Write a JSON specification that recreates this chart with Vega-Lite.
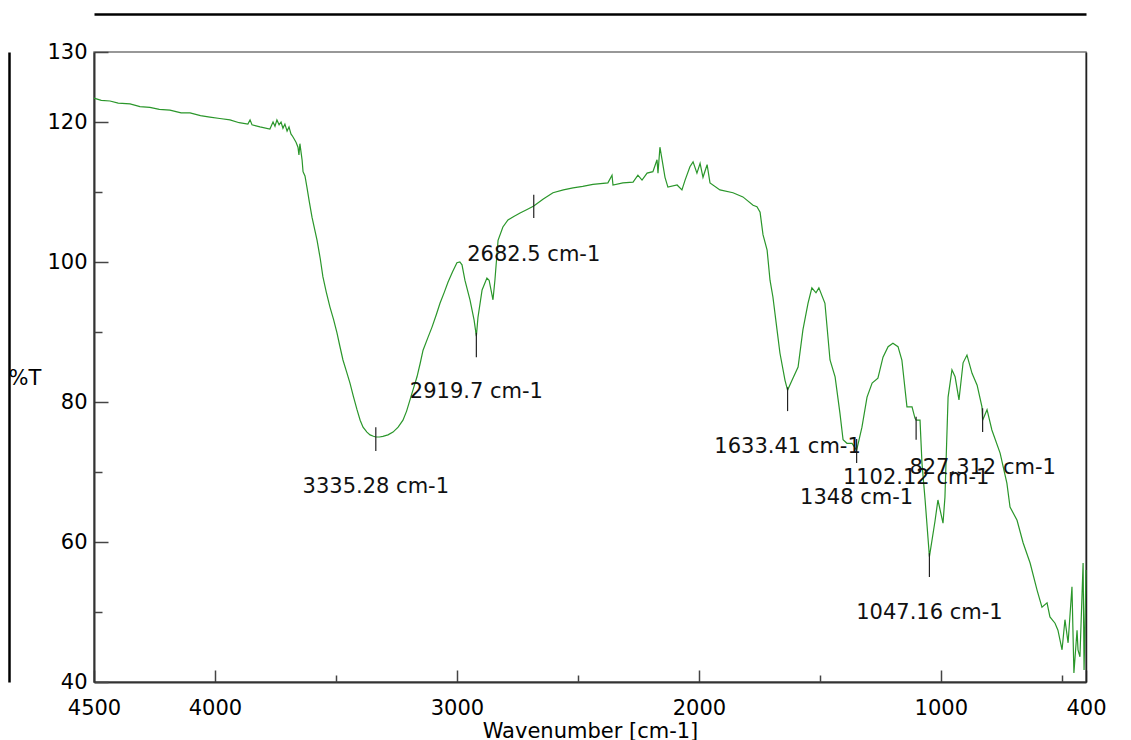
{
  "$schema": "https://vega.github.io/schema/vega-lite/v6.json",
  "width": 992,
  "height": 630,
  "autosize": {"type": "none"},
  "padding": {"left": 94, "top": 52, "right": 45, "bottom": 58},
  "background": "white",
  "config": {
    "font": "DejaVu Sans",
    "view": {"stroke": "#777", "strokeWidth": 1.5},
    "axis": {"grid": false, "labelFlush": false, "labelOverlap": false, "labelBound": false}
  },
  "datasets": {
    "spectrum": [
      {"wn": 4500, "T": 123.4}, {"wn": 4470, "T": 123.1}, {"wn": 4434, "T": 123.0}, {"wn": 4400, "T": 122.7}, {"wn": 4351, "T": 122.6}, {"wn": 4310, "T": 122.2}, {"wn": 4269, "T": 122.1},
      {"wn": 4230, "T": 121.8}, {"wn": 4186, "T": 121.7}, {"wn": 4140, "T": 121.3}, {"wn": 4103, "T": 121.3}, {"wn": 4060, "T": 120.9}, {"wn": 4021, "T": 120.7}, {"wn": 3980, "T": 120.5}, {"wn": 3938, "T": 120.3},
      {"wn": 3900, "T": 119.9}, {"wn": 3864, "T": 119.7}, {"wn": 3855, "T": 120.3}, {"wn": 3847, "T": 119.6}, {"wn": 3814, "T": 119.3},
      {"wn": 3773, "T": 119.0}, {"wn": 3760, "T": 120.0}, {"wn": 3752, "T": 119.4}, {"wn": 3744, "T": 120.3},
      {"wn": 3735, "T": 119.6}, {"wn": 3727, "T": 120.0}, {"wn": 3719, "T": 119.1}, {"wn": 3711, "T": 119.7},
      {"wn": 3702, "T": 118.7}, {"wn": 3694, "T": 119.3}, {"wn": 3686, "T": 118.3}, {"wn": 3678, "T": 117.9},
      {"wn": 3665, "T": 117.1}, {"wn": 3657, "T": 116.4}, {"wn": 3653, "T": 115.3}, {"wn": 3649, "T": 116.9},
      {"wn": 3640, "T": 114.6}, {"wn": 3636, "T": 112.9}, {"wn": 3628, "T": 112.3}, {"wn": 3620, "T": 110.7},
      {"wn": 3610, "T": 108.6}, {"wn": 3599, "T": 106.4}, {"wn": 3578, "T": 103.1}, {"wn": 3565, "T": 100.5}, {"wn": 3554, "T": 97.9}, {"wn": 3540, "T": 95.7}, {"wn": 3525, "T": 93.6},
      {"wn": 3510, "T": 91.8}, {"wn": 3496, "T": 89.9}, {"wn": 3484, "T": 88.0}, {"wn": 3471, "T": 86.0}, {"wn": 3456, "T": 84.3}, {"wn": 3442, "T": 82.7}, {"wn": 3428, "T": 80.8}, {"wn": 3413, "T": 78.9},
      {"wn": 3400, "T": 77.4}, {"wn": 3388, "T": 76.4}, {"wn": 3372, "T": 75.7}, {"wn": 3359, "T": 75.3}, {"wn": 3345, "T": 75.1}, {"wn": 3335.28, "T": 75.0}, {"wn": 3320, "T": 75.0}, {"wn": 3306, "T": 75.1},
      {"wn": 3285, "T": 75.3}, {"wn": 3264, "T": 75.7}, {"wn": 3243, "T": 76.4}, {"wn": 3223, "T": 77.4}, {"wn": 3208, "T": 78.7}, {"wn": 3194, "T": 80.3}, {"wn": 3180, "T": 81.9}, {"wn": 3165, "T": 83.6},
      {"wn": 3152, "T": 85.5}, {"wn": 3140, "T": 87.4}, {"wn": 3120, "T": 89.2}, {"wn": 3103, "T": 90.7}, {"wn": 3085, "T": 92.5}, {"wn": 3070, "T": 94.1}, {"wn": 3052, "T": 95.7}, {"wn": 3037, "T": 97.1},
      {"wn": 3018, "T": 98.6}, {"wn": 3000, "T": 99.9}, {"wn": 2988, "T": 100.0}, {"wn": 2979, "T": 99.6}, {"wn": 2967, "T": 97.4}, {"wn": 2946, "T": 94.6},
      {"wn": 2929, "T": 91.7}, {"wn": 2919.7, "T": 89.4}, {"wn": 2913, "T": 92.1}, {"wn": 2896, "T": 96.0},
      {"wn": 2876, "T": 97.7}, {"wn": 2867, "T": 97.4}, {"wn": 2851, "T": 94.6}, {"wn": 2843, "T": 97.4},
      {"wn": 2830, "T": 103.1}, {"wn": 2810, "T": 105.0}, {"wn": 2789, "T": 106.0}, {"wn": 2765, "T": 106.5}, {"wn": 2739, "T": 107.0},
      {"wn": 2710, "T": 107.5}, {"wn": 2682.5, "T": 108.0}, {"wn": 2643, "T": 109.0}, {"wn": 2603, "T": 109.9}, {"wn": 2560, "T": 110.3}, {"wn": 2520, "T": 110.6}, {"wn": 2480, "T": 110.8}, {"wn": 2438, "T": 111.1},
      {"wn": 2376, "T": 111.3}, {"wn": 2359, "T": 112.4}, {"wn": 2355, "T": 111.0}, {"wn": 2314, "T": 111.3},
      {"wn": 2272, "T": 111.4}, {"wn": 2252, "T": 112.4}, {"wn": 2235, "T": 111.7}, {"wn": 2214, "T": 112.7},
      {"wn": 2190, "T": 112.9}, {"wn": 2173, "T": 114.6}, {"wn": 2169, "T": 112.7}, {"wn": 2161, "T": 116.4},
      {"wn": 2152, "T": 114.6}, {"wn": 2140, "T": 112.1}, {"wn": 2128, "T": 110.7}, {"wn": 2090, "T": 111.0},
      {"wn": 2070, "T": 110.3}, {"wn": 2057, "T": 111.7}, {"wn": 2037, "T": 113.6}, {"wn": 2024, "T": 114.3},
      {"wn": 2008, "T": 112.7}, {"wn": 1995, "T": 114.1}, {"wn": 1983, "T": 112.1}, {"wn": 1966, "T": 113.9},
      {"wn": 1954, "T": 111.3}, {"wn": 1913, "T": 110.3}, {"wn": 1859, "T": 109.9}, {"wn": 1818, "T": 109.3},
      {"wn": 1776, "T": 108.1}, {"wn": 1760, "T": 107.9}, {"wn": 1747, "T": 107.1}, {"wn": 1735, "T": 103.9},
      {"wn": 1718, "T": 101.7}, {"wn": 1706, "T": 97.4}, {"wn": 1694, "T": 95.0}, {"wn": 1677, "T": 90.3},
      {"wn": 1665, "T": 87.0}, {"wn": 1644, "T": 83.1}, {"wn": 1633.41, "T": 81.7}, {"wn": 1615, "T": 83.1},
      {"wn": 1590, "T": 85.0}, {"wn": 1570, "T": 90.3}, {"wn": 1549, "T": 94.1}, {"wn": 1533, "T": 96.3},
      {"wn": 1516, "T": 95.6}, {"wn": 1504, "T": 96.3}, {"wn": 1479, "T": 94.1}, {"wn": 1458, "T": 86.0},
      {"wn": 1437, "T": 83.6}, {"wn": 1417, "T": 78.4}, {"wn": 1404, "T": 74.6}, {"wn": 1388, "T": 74.1},
      {"wn": 1367, "T": 74.1}, {"wn": 1348, "T": 73.1}, {"wn": 1326, "T": 76.4}, {"wn": 1305, "T": 80.7},
      {"wn": 1284, "T": 82.7}, {"wn": 1260, "T": 83.4}, {"wn": 1239, "T": 86.4}, {"wn": 1218, "T": 87.9},
      {"wn": 1198, "T": 88.4}, {"wn": 1177, "T": 87.9}, {"wn": 1161, "T": 86.0}, {"wn": 1140, "T": 79.3},
      {"wn": 1119, "T": 79.3}, {"wn": 1107, "T": 77.7}, {"wn": 1102.12, "T": 77.4}, {"wn": 1086, "T": 77.4},
      {"wn": 1078, "T": 71.3}, {"wn": 1065, "T": 66.0}, {"wn": 1047.16, "T": 57.9}, {"wn": 1024, "T": 63.0},
      {"wn": 1012, "T": 66.0}, {"wn": 991, "T": 62.7}, {"wn": 983, "T": 66.4}, {"wn": 970, "T": 80.7},
      {"wn": 954, "T": 84.6}, {"wn": 941, "T": 83.6}, {"wn": 925, "T": 80.3}, {"wn": 908, "T": 85.6},
      {"wn": 892, "T": 86.7}, {"wn": 871, "T": 84.1}, {"wn": 850, "T": 82.4}, {"wn": 830, "T": 79.3},
      {"wn": 827.312, "T": 77.4}, {"wn": 809, "T": 78.9}, {"wn": 789, "T": 76.0}, {"wn": 755, "T": 72.7},
      {"wn": 727, "T": 68.4}, {"wn": 714, "T": 65.0}, {"wn": 685, "T": 63.1}, {"wn": 660, "T": 59.9},
      {"wn": 631, "T": 57.0}, {"wn": 602, "T": 53.1}, {"wn": 582, "T": 50.7}, {"wn": 561, "T": 51.3},
      {"wn": 549, "T": 49.3}, {"wn": 528, "T": 48.4}, {"wn": 516, "T": 47.4}, {"wn": 499, "T": 44.6},
      {"wn": 487, "T": 48.9}, {"wn": 474, "T": 45.6}, {"wn": 458, "T": 53.6}, {"wn": 450, "T": 41.3},
      {"wn": 437, "T": 47.4}, {"wn": 433, "T": 44.6}, {"wn": 425, "T": 43.6}, {"wn": 412, "T": 57.0},
      {"wn": 408, "T": 41.7}, {"wn": 400, "T": 56.0}
    ],
    "peaks": [
      {"wn": 3335.28, "top": 76.4, "bot": 73.0, "ly": 67.9, "label": "3335.28 cm-1"},
      {"wn": 2919.7, "top": 89.9, "bot": 86.4, "ly": 81.4, "label": "2919.7 cm-1"},
      {"wn": 2682.5, "top": 109.6, "bot": 106.3, "ly": 101.0, "label": "2682.5 cm-1"},
      {"wn": 1633.41, "top": 82.1, "bot": 78.7, "ly": 73.6, "label": "1633.41 cm-1"},
      {"wn": 1348, "top": 74.7, "bot": 71.3, "ly": 66.3, "label": "1348 cm-1"},
      {"wn": 1102.12, "top": 77.9, "bot": 74.6, "ly": 69.1, "label": "1102.12 cm-1"},
      {"wn": 827.312, "top": 79.1, "bot": 75.7, "ly": 70.6, "label": "827.312 cm-1"},
      {"wn": 1047.16, "top": 58.4, "bot": 55.0, "ly": 49.9, "label": "1047.16 cm-1"}
    ]
  },
  "resolve": {"axis": {"x": "independent", "y": "independent"}},
  "layer": [
    {
      "data": {"name": "spectrum"},
      "mark": {"type": "line", "color": "#2a962a", "strokeWidth": 1.2},
      "encoding": {
        "x": {"field": "wn", "type": "quantitative", "sort": null,
          "scale": {"domain": [400, 4500], "reverse": true, "nice": false, "zero": false},
          "axis": {"orient": "bottom", "values": [4500, 4000, 3000, 2000, 1000, 400], "format": "d",
            "tickSize": -12, "tickColor": "#444", "tickWidth": 1.5,
            "domainColor": "#333", "domainWidth": 2,
            "labelPadding": 27, "labelFontSize": 21, "labelColor": "#000", "labelBaseline": "top",
            "title": "Wavenumber [cm-1]", "titleFontSize": 21, "titleFontWeight": "normal", "titleColor": "#000",
            "titleY": 55, "titleBaseline": "alphabetic"}},
        "y": {"field": "T", "type": "quantitative",
          "scale": {"domain": [40, 130], "nice": false, "zero": false},
          "axis": {"orient": "left", "values": [40, 60, 80, 100, 120, 130], "format": "d",
            "tickSize": -14, "tickColor": "#444", "tickWidth": 1.5,
            "domainColor": "#333", "domainWidth": 2,
            "labelPadding": 21, "labelFontSize": 21, "labelColor": "#000", "labelBaseline": "middle",
            "title": "%T", "titleAngle": 0, "titleAlign": "left", "titleBaseline": "middle",
            "titleX": -86, "titleY": 326, "titleFontSize": 21, "titleFontWeight": "normal", "titleColor": "#000"}}
      }
    },
    {
      "data": {"name": "peaks"},
      "mark": {"type": "rule", "color": "#222", "strokeWidth": 1.2},
      "encoding": {
        "x": {"field": "wn", "type": "quantitative", "scale": {"domain": [400, 4500], "reverse": true, "nice": false, "zero": false}, "axis": null},
        "y": {"field": "top", "type": "quantitative", "scale": {"domain": [40, 130], "nice": false, "zero": false}, "axis": null},
        "y2": {"field": "bot"}
      }
    },
    {
      "data": {"name": "peaks"},
      "mark": {"type": "text", "fontSize": 21, "color": "#111", "align": "center", "baseline": "middle"},
      "encoding": {
        "x": {"field": "wn", "type": "quantitative", "scale": {"domain": [400, 4500], "reverse": true, "nice": false, "zero": false}, "axis": null},
        "y": {"field": "ly", "type": "quantitative", "scale": {"domain": [40, 130], "nice": false, "zero": false}, "axis": null},
        "text": {"field": "label"}
      }
    },
    {
      "data": {"name": "peaks"},
      "mark": {"type": "point", "opacity": 0},
      "encoding": {
        "x": {"field": "wn", "type": "quantitative", "scale": {"domain": [400, 4500], "reverse": true, "nice": false, "zero": false},
          "axis": {"orient": "bottom", "values": [3500, 2500, 1500, 500], "tickSize": -7, "tickColor": "#444", "tickWidth": 1.5,
            "domain": false, "labels": false, "title": null}},
        "y": {"field": "ly", "type": "quantitative", "scale": {"domain": [40, 130], "nice": false, "zero": false},
          "axis": {"orient": "left", "values": [50, 70, 90, 110], "tickSize": -8, "tickColor": "#444", "tickWidth": 1.5,
            "domain": false, "labels": false, "title": null}}
      }
    },
    {
      "data": {"name": "peaks"},
      "mark": {"type": "point", "opacity": 0},
      "encoding": {
        "x": {"field": "wn", "type": "quantitative", "scale": {"domain": [400, 4500], "reverse": true, "nice": false, "zero": false},
          "axis": {"orient": "top", "offset": 38, "domainColor": "#000", "domainWidth": 2.5, "ticks": false, "labels": false, "title": null}},
        "y": {"field": "ly", "type": "quantitative", "scale": {"domain": [40, 130], "nice": false, "zero": false},
          "axis": {"orient": "left", "offset": 85, "domainColor": "#000", "domainWidth": 2.5, "ticks": false, "labels": false, "title": null}}
      }
    },
    {
      "data": {"name": "peaks"},
      "mark": {"type": "point", "opacity": 0},
      "encoding": {
        "x": {"field": "wn", "type": "quantitative", "scale": {"domain": [400, 4500], "reverse": true, "nice": false, "zero": false}, "axis": null},
        "y": {"field": "ly", "type": "quantitative", "scale": {"domain": [40, 130], "nice": false, "zero": false},
          "axis": {"orient": "right", "domainColor": "#222", "domainWidth": 1.5, "ticks": false, "labels": false, "title": null}}
      }
    }
  ]
}
